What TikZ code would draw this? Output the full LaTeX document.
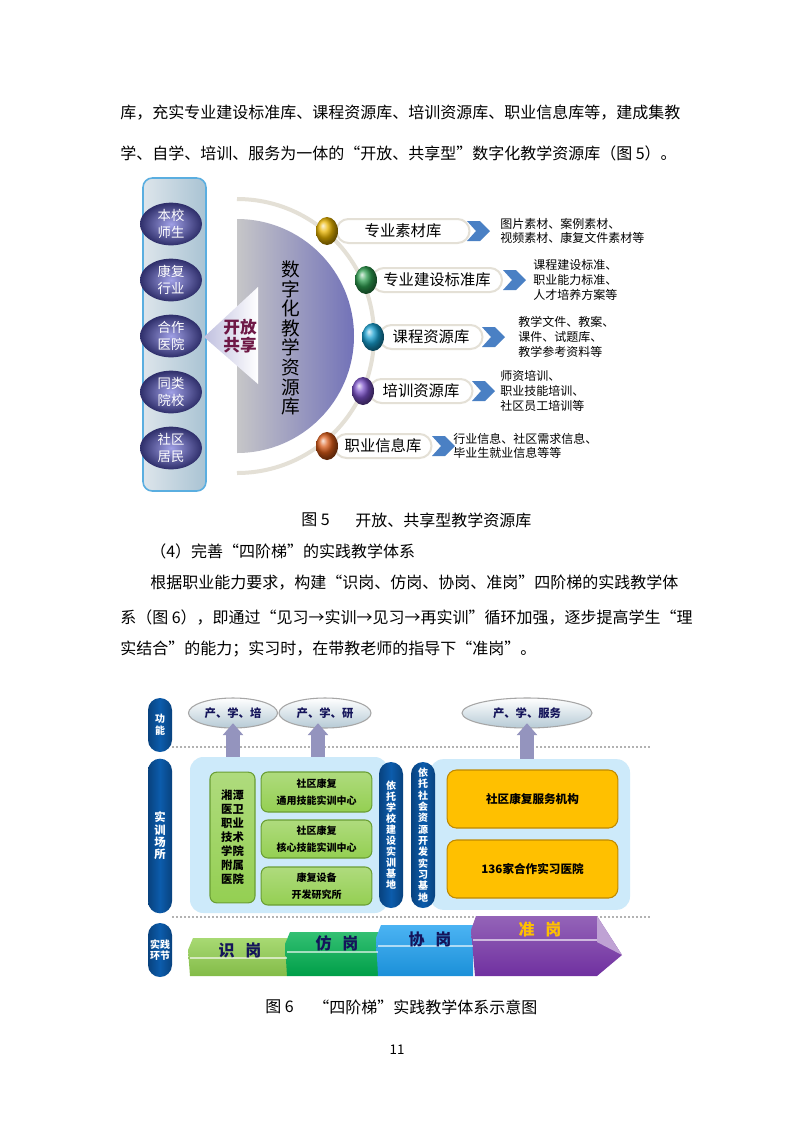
\documentclass[tikz,border=0pt]{standalone}
\usepackage{fontspec}
\setmainfont{Noto Sans CJK SC}
\usetikzlibrary{shapes.geometric,arrows.meta}
\definecolor{barl}{HTML}{DDE5EB}
\definecolor{barr}{HTML}{A9C3D3}
\definecolor{barrim}{HTML}{5AAEE0}
\definecolor{grpin}{HTML}{A0A0E6}
\definecolor{grpout}{HTML}{2E2E6A}
\definecolor{wine}{HTML}{6E1846}
\definecolor{discl}{HTML}{C6C6C8}
\definecolor{discr}{HTML}{7272B8}
\definecolor{rim}{HTML}{E4E0D6}
\definecolor{chev}{HTML}{4A80C4}
\definecolor{navy}{HTML}{0C5CAC}
\definecolor{navyd}{HTML}{08427E}
\definecolor{panel}{HTML}{CDEAFA}
\definecolor{lime}{HTML}{94CF52}
\definecolor{limed}{HTML}{6A9E34}
\definecolor{amber}{HTML}{FFC000}
\definecolor{amberd}{HTML}{C08A00}
\definecolor{ink}{HTML}{14145A}
\definecolor{arrowc}{HTML}{9494BE}
\definecolor{stepa}{HTML}{92D050}
\definecolor{stepb}{HTML}{00B050}
\definecolor{stepc}{HTML}{1EA0F0}
\definecolor{stepd}{HTML}{7030A0}
\definecolor{yelb}{HTML}{E8B400}
\definecolor{grnb}{HTML}{2E9E50}
\definecolor{cynb}{HTML}{18A0D0}
\definecolor{purb}{HTML}{7A50C8}
\definecolor{orab}{HTML}{D85A18}

\begin{document}
\begin{tikzpicture}[x=0.75pt,y=-0.75pt,
  body/.style={anchor=west,inner sep=0pt,font=\fontsize{12pt}{12pt}\selectfont},
  grp/.style={ellipse,minimum width=46.5pt,minimum height=32pt,inner sep=0pt,
    inner color=grpin,outer color=grpout,text=white,align=center,
    font=\fontsize{10pt}{12.5pt}\selectfont},
  ball/.style={ellipse,minimum width=16.5pt,minimum height=21pt,inner sep=0pt},
  capsule/.style={rounded corners=9pt,draw=rim,line width=1.5pt,fill=white,
    minimum height=18pt,inner sep=0pt,font=\fontsize{11.5pt}{11.5pt}\selectfont},
  desc/.style={anchor=west,inner sep=0pt,align=left,font=\fontsize{9pt}{11pt}\selectfont},
  tag/.style={rounded corners=9pt,minimum width=18pt,inner sep=0pt,
    left color=navyd,right color=navyd,middle color=navy,text=white,align=center,
    font=\bfseries\fontsize{7.5pt}{9pt}\selectfont},
  cloud/.style={ellipse,draw=gray!70,line width=0.8pt,top color=white,
    bottom color=panel!70!gray,minimum height=22.5pt,inner sep=0pt,text=ink,
    font=\bfseries\fontsize{8.5pt}{8.5pt}\selectfont},
  pane/.style={rounded corners=10pt,fill=panel,inner sep=0pt},
  gbox/.style={rounded corners=5pt,draw=limed,line width=0.8pt,top color=lime!75!white,
    bottom color=lime,inner sep=0pt,align=center,font=\bfseries\fontsize{7.5pt}{12.5pt}\selectfont},
  obox/.style={rounded corners=7pt,draw=amberd,line width=0.8pt,fill=amber,
    minimum width=128pt,minimum height=43.5pt,inner sep=0pt,
    font=\bfseries\fontsize{8.7pt}{8.7pt}\selectfont},
  up/.style={arrowc,line width=10.5pt,-{Triangle[width=15pt,length=9pt]}},
  steplab/.style={inner sep=0pt,font=\bfseries\fontsize{12pt}{12pt}\selectfont}]
\useasboundingbox (0,0) rectangle (793,1122);
\fill[white] (0,0) rectangle (793,1122);

% text above figure 5
\node[body] (p1) at (120,113) {库，充实专业建设标准库、课程资源库、培训资源库、职业信息库等，建成集教};
\node[body] (p2) at (120,153) {学、自学、培训、服务为一体的“开放、共享型”数字化教学资源库（图 5）。};

% figure 5: user groups
\shade[left color=barl,right color=barr,draw=barrim,line width=1.2pt,rounded corners=7pt]
  (143,178) rectangle (206,491);
\foreach \t/\b [count=\i] in {本校/师生,康复/行业,合作/医院,同类/院校,社区/居民}
  \node[grp] (g\i) at (171,{224+56*(\i-1)}) {\t\\\b};

% figure 5: resource library
\draw[rim,line width=3pt] (237,199) arc[start angle=-90,end angle=90,radius=137];
\shade[left color=discl,right color=discr] (237,219) arc[start angle=-90,end angle=90,radius=117] -- cycle;
\shade[left color=discr!45!white,right color=white] (204,337) -- (258,287) -- (258,384) -- cycle;
\node[inner sep=0pt,align=center,text=wine,font=\bfseries\fontsize{12.5pt}{14pt}\selectfont]
  (share) at (240,336) {开放\\共享};
\node[inner sep=0pt,align=center,font=\fontsize{14pt}{14.7pt}\selectfont]
  (lib) at (291,338) {数\\字\\化\\教\\学\\资\\源\\库};

\foreach \i/\bx/\by/\bcol/\lab/\cx/\cw/\hx/\dx/\dtxt in {
  1/327/231/yelb/专业素材库/403/133/467/500/{图片素材、案例素材、\\视频素材、康复文件素材等},
  2/366/280/grnb/专业建设标准库/437/130/503/533/{课程建设标准、\\职业能力标准、\\人才培养方案等},
  3/373/337/cynb/课程资源库/431/103/482/518/{教学文件、教案、\\课件、试题库、\\教学参考资料等},
  4/363/391/purb/培训资源库/421/103/472/500/{师资培训、\\职业技能培训、\\社区员工培训等},
  5/327/446/orab/职业信息库/383/97/432/453/{行业信息、社区需求信息、\\毕业生就业信息等等}}
{
  \node[capsule,minimum width=\cw*0.75pt] (c\i) at (\cx,\by) {\lab};
  \node[ball,ball color=\bcol] (b\i) at (\bx,\by) {};
  \fill[chev] (\hx,\by) ++(0,-10) -- ++(13,0) -- ++(10,10) -- ++(-10,10) -- ++(-13,0) -- ++(9,-10) -- cycle;
  \node[desc] (d\i) at (\dx,\by) {\dtxt};
}

% caption and text between the figures
\node[body] (cap5a) at (301,520) {图 5};
\node[body] (cap5b) at (355,520) {开放、共享型教学资源库};
\node[body] (p3) at (150,551) {（4）完善“四阶梯”的实践教学体系};
\node[body] (p4) at (150,583) {根据职业能力要求，构建“识岗、仿岗、协岗、准岗”四阶梯的实践教学体};
\node[body] (p5) at (120,617) {系（图 6），即通过“见习→实训→见习→再实训”循环加强，逐步提高学生“理};
\node[body] (p6) at (120,649) {实结合”的能力；实习时，在带教老师的指导下“准岗”。};

% figure 6: row labels and rules
\node[tag,minimum height=40.5pt] (fn) at (160,725) {功\\能};
\node[tag,minimum height=116pt,font=\bfseries\fontsize{8.5pt}{9.3pt}\selectfont] (site) at (160,836) {实\\训\\场\\所};
\node[tag,minimum height=40.5pt,font=\bfseries\fontsize{7.5pt}{8.5pt}\selectfont] (prac) at (160,950) {实践\\环节};
\draw[gray!60,line width=1.5pt,dash pattern=on 1.5pt off 1.5pt] (fn.east |- 0,747) -- (652,747);
\draw[gray!60,line width=1.5pt,dash pattern=on 1.5pt off 1.5pt] (fn.east |- 0,917) -- (652,917);

% figure 6: arrows and functions
\coordinate (a1) at (233,757);
\coordinate (a2) at (318,757);
\coordinate (a3) at (527,759);
\node[cloud,minimum width=66.75pt] (e1) at (233,713) {产、学、培};
\node[cloud,minimum width=69pt] (e2) at (325,713) {产、学、研};
\node[cloud,minimum width=97.5pt] (e3) at (527,713) {产、学、服务};
\draw[up] (a1) -- ([yshift=4pt]a1 |- e1.south);
\draw[up] (a2) -- ([yshift=4pt]a2 |- e2.south);
\draw[up] (a3) -- ([yshift=4pt]a3 |- e3.south);

% figure 6: training sites
\node[pane,minimum width=148.5pt,minimum height=117pt] (pa) at (289,835) {};
\node[pane,minimum width=150pt,minimum height=113pt] (pb) at (530,834.5) {};
\node[gbox,minimum width=33.75pt,minimum height=98pt,font=\bfseries\fontsize{8.5pt}{10.5pt}\selectfont]
  (hosp) at (232.5,837.5) {湘潭\\医卫\\职业\\技术\\学院\\附属\\医院};
\node[gbox,minimum width=83pt,minimum height=30pt] (k1) at (316.5,792) {社区康复\\通用技能实训中心};
\node[gbox,minimum width=83pt,minimum height=28.5pt] (k2) at (316.5,839) {社区康复\\核心技能实训中心};
\node[gbox,minimum width=83pt,minimum height=28.5pt] (k3) at (316.5,886) {康复设备\\开发研究所};
\node[tag,minimum height=109.5pt,font=\bfseries\fontsize{7.5pt}{8.3pt}\selectfont]
  (v1) at (391,835) {依\\托\\学\\校\\建\\设\\实\\训\\基\\地};
\node[tag,minimum height=109.5pt,font=\bfseries\fontsize{7.5pt}{8.5pt}\selectfont]
  (v2) at (423,835) {依\\托\\社\\会\\资\\源\\开\\发\\实\\习\\基\\地};
\node[obox] (o1) at (532.5,799) {社区康复服务机构};
\node[obox] (o2) at (532.5,869) {136家合作实习医院};

% figure 6: four steps
\shade[top color=stepa!80!white,bottom color=stepa!90!black] (193,938) -- (287,938) -- (287,976) -- (190,976) -- (188,950) -- cycle;
\shade[top color=stepb!80!white,bottom color=stepb!90!black] (290,932) -- (378,932) -- (378,976) -- (287,976) -- (285,944) -- cycle;
\shade[top color=stepc!80!white,bottom color=stepc!90!black] (381,925) -- (473,925) -- (473,976) -- (378,976) -- (376,938) -- cycle;
\shade[top color=stepd!75!white,bottom color=stepd] (476,916) -- (597,916) -- (622,955) -- (597,976) -- (475,976) -- (471,930) -- cycle;
\fill[stepd!45!white] (597,916) -- (622,955) -- (597,942) -- cycle;
\foreach \xa/\xb/\yy in {190/287/958,287/378/952,378/473/946,473/597/940}
  \draw[white,opacity=0.6,line width=1.5pt] (\xa,\yy) -- (\xb,\yy);
\node[steplab,text=ink] (sa) at (240,950) {识\hspace{8pt}岗};
\node[steplab,text=ink] (sb) at (337,943) {仿\hspace{8pt}岗};
\node[steplab,text=ink] (sc) at (430,939) {协\hspace{8pt}岗};
\node[steplab,text=amber] (sd) at (540,929) {准\hspace{8pt}岗};

% caption and page number
\node[body] (cap6a) at (265,1007) {图 6};
\node[body] (cap6b) at (313,1007) {“四阶梯”实践教学体系示意图};
\node[inner sep=0pt,font=\fontsize{10pt}{10pt}\selectfont] (pg) at (397,1050) {11};
\end{tikzpicture}
\end{document}
